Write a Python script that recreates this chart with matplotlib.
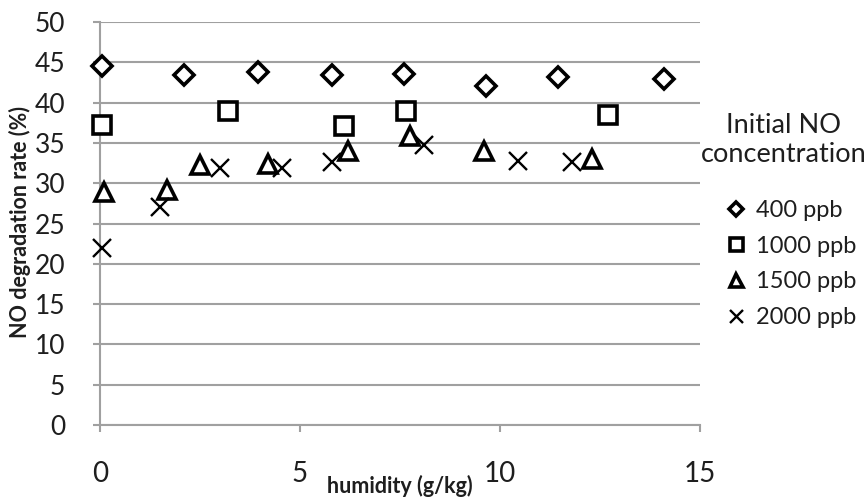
import matplotlib

matplotlib.use("Agg")
import matplotlib.pyplot as plt

plt.rcParams["font.family"] = ["Lato", "DejaVu Sans"]

# humidity (g/kg) and NO degradation rate (%) per initial concentration
hum_400 = [0.05, 2.1, 3.95, 5.8, 7.6, 9.65, 11.45, 14.1]
rate_400 = [44.5, 43.4, 43.8, 43.4, 43.5, 42.0, 43.2, 42.9]

hum_1000 = [0.05, 3.2, 6.1, 7.65, 12.7]
rate_1000 = [37.2, 39.0, 37.1, 38.9, 38.5]

hum_1500 = [0.1, 1.67, 2.5, 4.2, 6.2, 7.75, 9.6, 12.3]
rate_1500 = [28.9, 29.2, 32.2, 32.4, 34.0, 35.8, 34.0, 33.0]

hum_2000 = [0.04, 1.5, 3.0, 4.55, 5.8, 8.1, 10.45, 11.8]
rate_2000 = [22.0, 27.1, 31.9, 31.9, 32.6, 34.7, 32.7, 32.6]

labels = ["400 ppb", "1000 ppb", "1500 ppb", "2000 ppb"]

fig = plt.figure(figsize=(8.66, 5.04), dpi=100)
ax = fig.add_axes([100 / 866, 1 - 425 / 504, 600 / 866, 403 / 504])

grid_c = "#a0a0a0"
txt_c = "#1e1e1e"
ax.set_xlim(0, 15)
ax.set_ylim(0, 50)
ax.set_yticks(range(0, 51, 5))
ax.set_xticks([0, 5, 10, 15])
ax.yaxis.grid(True, color=grid_c, lw=1.5)
ax.set_axisbelow(True)
for s in ["top", "right"]:
    ax.spines[s].set_visible(False)
for s in ["left", "bottom"]:
    ax.spines[s].set_color(grid_c)
    ax.spines[s].set_linewidth(1.5)
ax.tick_params(axis="y", length=5, width=1.5, color=grid_c, labelsize=19,
               labelcolor=txt_c, pad=20)
ax.tick_params(axis="x", length=5, width=1.5, color=grid_c, labelsize=20,
               labelcolor=txt_c, pad=21)

mk = dict(ls="none", mfc="white", mec="black", clip_on=False, zorder=3)
ax.plot(hum_400, rate_400, marker="D", ms=10, mew=2.6, label=labels[0], **mk)
ax.plot(hum_1000, rate_1000, marker="s", ms=13, mew=2.6, label=labels[1], **mk)
ax.plot(hum_1500, rate_1500, marker="^", ms=13, mew=2.6, label=labels[2], **mk)
ax.plot(hum_2000, rate_2000, marker="x", ms=13, mew=1.7, color="black",
        ls="none", clip_on=False, zorder=3, label=labels[3])

fig.text(400 / 866, 1 - 486 / 504, "humidity (g/kg)", ha="center", va="center",
         fontsize=15.5, fontweight="bold", color=txt_c)
fig.text(20 / 866, 1 - 222 / 504, "NO degradation rate (%)", ha="center",
         va="center", rotation=90, fontsize=15.5, fontweight="bold", color=txt_c)

# legend title sits apart from the entries
fig.text(784 / 866, 1 - 140 / 504, "Initial NO\nconcentration", ha="center",
         va="center", multialignment="center", fontsize=19.5, linespacing=1.22,
         color=txt_c)
leg = fig.legend(loc="center", bbox_to_anchor=(792 / 866, 1 - 264 / 504),
                 frameon=False, fontsize=17, handlelength=0.7,
                 handletextpad=0.5, labelspacing=0.62, markerscale=0.72)
for t in leg.get_texts():
    t.set_color(txt_c)

fig.savefig("out.png", dpi=100)
